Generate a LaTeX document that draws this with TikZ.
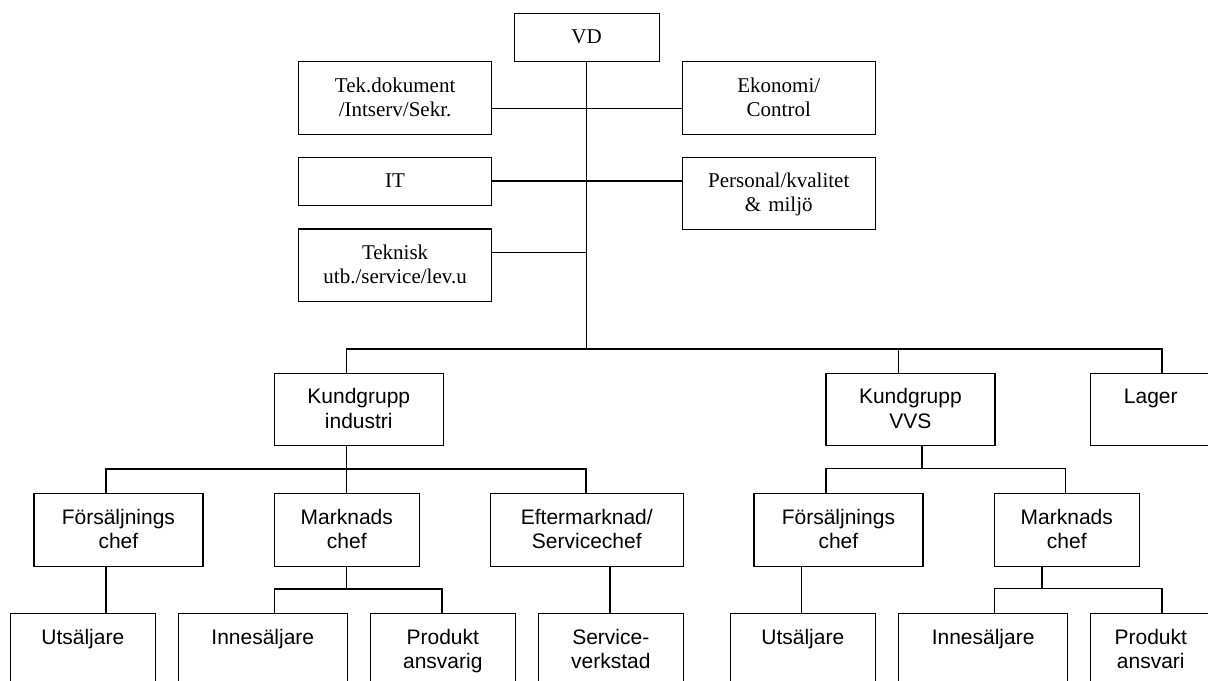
\documentclass[tikz,border=0pt]{standalone}
\usepackage{fontspec}
\setmainfont{Liberation Serif}
\setsansfont{Liberation Sans}
\usepackage{tikz}
\usetikzlibrary{positioning}

\begin{document}
\begin{tikzpicture}[
      x=0.5pt, y=-0.5pt,
      orgbox/.style={
          draw=black,
          line width=0.6pt,
          inner sep=0pt,
          anchor=north west,
          text width=#1,
          align=center,
          text height=15.25pt,
          text depth=21pt,
          font=\fontsize{10.5}{12}\selectfont
        },
      lowbox/.style={text depth=8.9pt},
      ubox/.style={
          orgbox=#1,
          font=\sffamily\fontsize{10.5}{12.15}\selectfont
        },
      link/.style={line width=0.75pt, black}
    ]
    \clip (0,0) rectangle (1208,680);
    \fill[white] (0,0) rectangle (1208,680);

    % ledning och stab
    \node[orgbox=72.5pt, lowbox] (vd) at (513.5,12.7) {VD};
    \node[orgbox=96.5pt] (tek) at (298,61) {Tek.dokument\\/Intserv/Sekr.};
    \node[orgbox=96.5pt] (eko) at (681.7,61) {Ekonomi/\\Control};
    \node[orgbox=96.5pt, lowbox] (it) at (298,156.7) {IT};
    \node[orgbox=96.5pt] (pers) at (681.7,156.7) {Personal/kvalitet\\\& miljö};
    \node[orgbox=96.5pt] (teknisk) at (298,228.3) {Teknisk\\utb./service/lev.u};

    % kundgrupper
    \node[ubox=84.5pt] (kgi) at (273.7,372.7) {Kundgrupp\\industri};
    \node[ubox=84.5pt] (kgv) at (825.3,372.7) {Kundgrupp\\VVS};
    \node[ubox=60.5pt] (lager) at (1089.7,372.7) {Lager};

    % chefer
    \node[ubox=84.5pt] (fci) at (33.3,493) {Försäljnings\\chef};
    \node[ubox=72.5pt] (mci) at (273.7,493) {Marknads\\chef};
    \node[ubox=96.5pt] (efi) at (489.7,493) {Eftermarknad/\\Servicechef};
    \node[ubox=84.5pt] (fcv) at (753.3,493) {Försäljnings\\chef};
    \node[ubox=72.5pt] (mcv) at (993.7,493) {Marknads\\chef};

    % personal
    \node[ubox=72.5pt] (usi) at (9.7,613) {Utsäljare};
    \node[ubox=84.5pt] (isi) at (177.7,613) {Innesäljare};
    \node[ubox=72.5pt] (pai) at (369.7,613) {Produkt\\ansvarig};
    \node[ubox=72.5pt] (svi) at (537.7,613) {Service-\\verkstad};
    \node[ubox=72.5pt] (usv) at (729.7,613) {Utsäljare};
    \node[ubox=84.5pt] (isv) at (898,613) {Innesäljare};
    \node[ubox=60.5pt] (pav) at (1089.7,613) {Produkt\\ansvari};

    % knutpunkter
    \coordinate (j1) at (586,108.3);
    \coordinate (j2) at (586,181);
    \coordinate (j3) at (586,252.3);
    \coordinate (busL) at (346.4,349);
    \coordinate (busM) at (898.3,349);
    \coordinate (busR) at (1162,349);
    \coordinate (i0) at (346.3,469);
    \coordinate (i1) at (106,469);
    \coordinate (i2) at (586,469);
    \coordinate (m0) at (346.3,589);
    \coordinate (m1) at (274.3,589);
    \coordinate (m2) at (442,589);
    \coordinate (s0) at (610,589);
    \coordinate (v0) at (922,468.7);
    \coordinate (v1) at (826,468.7);
    \coordinate (v2) at (1065.7,468.7);
    \coordinate (u0) at (801.6,589);
    \coordinate (w0) at (1042,588.7);
    \coordinate (w1) at (994.3,588.7);
    \coordinate (w2) at (1162,588.7);

    \draw[link] (vd.south) -- (vd.south |- busL);
    \draw[link] (j1 -| tek.east) -- (j1 -| eko.west);
    \draw[link] (j2 -| it.east) -- (j2 -| pers.west);
    \draw[link] (j3 -| teknisk.east) -- (j3);

    \draw[link] (busL |- kgi.north) -- (busL) -- (busR) -- (busR |- lager.north);
    \draw[link] (busM) -- (busM |- kgv.north);

    \draw[link] (i0 |- kgi.south) -- (i0) -- (i0 |- mci.north);
    \draw[link] (i1 |- fci.north) -- (i1) -- (i2) -- (i2 |- efi.north);
    \draw[link] (i1 |- fci.south) -- (i1 |- usi.north);
    \draw[link] (m0 |- mci.south) -- (m0);
    \draw[link] (m1 |- isi.north) -- (m1) -- (m2) -- (m2 |- pai.north);
    \draw[link] (s0 |- efi.south) -- (s0 |- svi.north);

    \draw[link] (v0 |- kgv.south) -- (v0);
    \draw[link] (v1 |- fcv.north) -- (v1) -- (v2) -- (v2 |- mcv.north);
    \draw[link] (u0 |- fcv.south) -- (u0 |- usv.north);
    \draw[link] (w0 |- mcv.south) -- (w0);
    \draw[link] (w1 |- isv.north) -- (w1) -- (w2) -- (w2 |- pav.north);
  \end{tikzpicture}
\end{document}
